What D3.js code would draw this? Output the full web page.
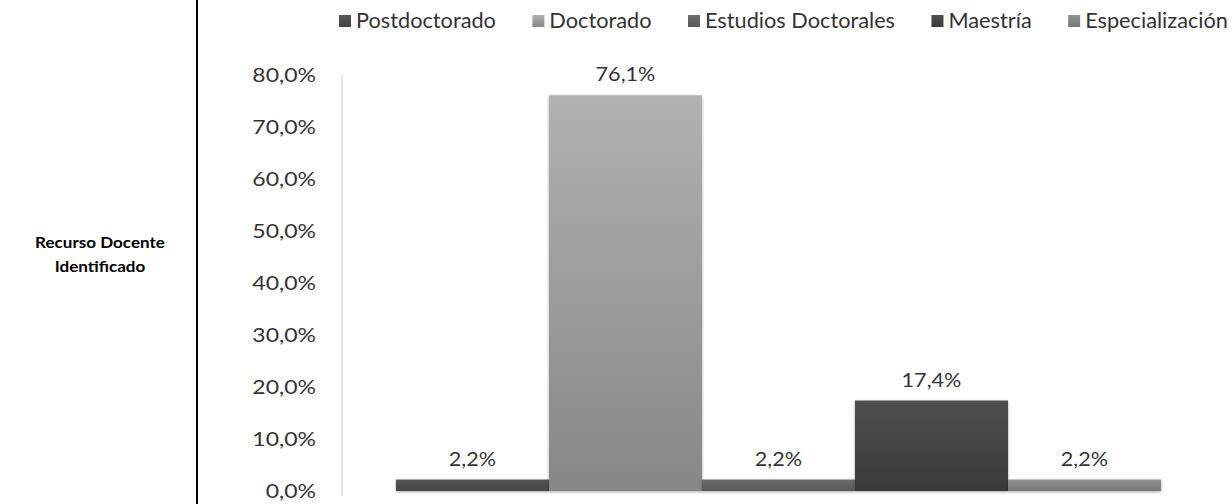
<!DOCTYPE html>
<html>
<head>
<meta charset="utf-8">
<script src="https://cdnjs.cloudflare.com/ajax/libs/d3/7.8.5/d3.min.js"></script>
<style>
  body { margin: 0; background: #fff; overflow: hidden; }
  svg { display: block; font-family: Lato, "Open Sans", sans-serif; }
</style>
</head>
<body>
<script>
const categories = ["Postdoctorado", "Doctorado", "Estudios Doctorales", "Maestría", "Especialización"];
const values = [2.2, 76.1, 2.2, 17.4, 2.2];
const yTicks = [0, 10, 20, 30, 40, 50, 60, 70, 80];
const colorsTop = ["#565656", "#b1b1b1", "#6c6c6c", "#4f4f4f", "#939393"];
const colorsBottom = ["#444444", "#878787", "#595959", "#393939", "#777777"];

const width = 1232, height = 504;
const svg = d3.select("body").append("svg")
  .attr("width", width).attr("height", height);

// stretch text a bit so it takes the width of the original Calibri
function widen(sel, k) {
  sel.each(function () {
    const w = this.getComputedTextLength();
    d3.select(this).attr("textLength", w * k).attr("lengthAdjust", "spacingAndGlyphs");
  });
}

const defs = svg.append("defs");
categories.forEach((c, i) => {
  const g = defs.append("linearGradient").attr("id", "g" + i)
    .attr("x1", 0).attr("y1", 0).attr("x2", 0).attr("y2", 1);
  g.append("stop").attr("offset", "0%").attr("stop-color", colorsTop[i]);
  g.append("stop").attr("offset", "100%").attr("stop-color", colorsBottom[i]);
});
const shadow = defs.append("filter").attr("id", "shadow")
  .attr("x", "-10%").attr("y", "-10%").attr("width", "120%").attr("height", "130%");
shadow.append("feDropShadow").attr("dx", 0).attr("dy", 1).attr("stdDeviation", 1.5)
  .attr("flood-color", "#000").attr("flood-opacity", 0.35);

// table cell border on the left
svg.append("line").attr("x1", 197).attr("x2", 197).attr("y1", 0).attr("y2", height)
  .attr("stroke", "#000").attr("stroke-width", 2);

const side = svg.append("text").attr("text-anchor", "middle")
  .attr("font-weight", "bold").attr("font-size", 15.5).attr("fill", "#000");
side.selectAll("tspan").data(["Recurso Docente", "Identificado"]).join("tspan")
  .attr("x", 100).attr("y", (d, i) => 248 + i * 24).text(d => d)
  .call(widen, 1.1);

const y = d3.scaleLinear().domain([0, 80]).range([491, 75]);
const x = d3.scaleBand().domain(categories).range([396, 1161]).padding(0);
const pct = v => d3.format(".1f")(v).replace(".", ",") + "%";

// y axis
const yAxis = svg.append("g").attr("transform", "translate(342,0)")
  .call(d3.axisLeft(y).tickValues(yTicks).tickSize(0).tickPadding(26).tickFormat(pct));
yAxis.select(".domain").attr("stroke", "#c8c8c8").attr("d", "M0,75V496");
yAxis.selectAll("text").attr("font-size", 20).attr("fill", "#333")
  .attr("font-family", "Lato, sans-serif").call(widen, 1.15);

// bars
svg.append("g").selectAll("rect").data(categories).join("rect")
  .attr("x", d => x(d))
  .attr("y", (d, i) => y(values[i]))
  .attr("width", x.bandwidth())
  .attr("height", (d, i) => y(0) - y(values[i]))
  .attr("fill", (d, i) => `url(#g${i})`)
  .attr("filter", "url(#shadow)");

// value labels
svg.append("g").selectAll("text").data(categories).join("text")
  .attr("x", d => x(d) + x.bandwidth() / 2)
  .attr("y", (d, i) => y(values[i]) - 14)
  .attr("text-anchor", "middle")
  .attr("font-size", 20).attr("fill", "#333")
  .text((d, i) => pct(values[i]))
  .call(widen, 1.08);

// legend, laid out left to right and fitted between 339 and 1228
const legendG = svg.append("g");
const items = categories.map((c, i) => {
  const sw = legendG.append("rect").attr("y", 15).attr("width", 12).attr("height", 12)
    .attr("fill", `url(#g${i})`);
  const t = legendG.append("text").attr("y", 28).attr("font-size", 20.5)
    .attr("fill", "#333").text(c).call(widen, 1.06);
  return { sw, t, w: +t.attr("textLength") };
});
const textTotal = d3.sum(items, d => d.w + 17);
const gap = (1228 - 339 - textTotal) / (items.length - 1);
let lx = 339;
items.forEach(d => {
  d.sw.attr("x", lx);
  d.t.attr("x", lx + 17);
  lx += 17 + d.w + gap;
});
</script>
</body>
</html>
